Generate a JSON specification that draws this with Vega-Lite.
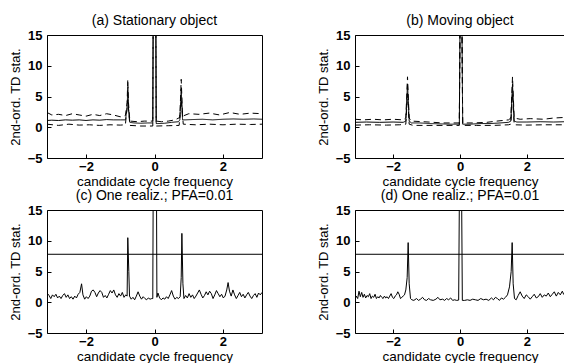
{
  "$schema": "https://vega.github.io/schema/vega-lite/v6.json",
  "padding": {"left": 8, "top": 13, "right": 0, "bottom": 0},
  "background": "white",
  "config": {
    "font": "Liberation Sans",
    "view": {"stroke": "black", "strokeWidth": 1},
    "axis": {"grid": false, "domain": false, "tickColor": "black", "labelColor": "black", "titleColor": "black", "labelFontSize": 13, "labelFontWeight": "bold", "titleFontSize": 14, "titleFontWeight": "normal", "tickSize": -4},
    "axisX": {"labelPadding": 6, "titlePadding": 1, "titleFontSize": 13.5},
    "axisY": {"labelPadding": 9, "titlePadding": 5, "titleFontSize": 13},
    "title": {"fontSize": 14, "fontWeight": "normal", "offset": 1, "color": "black"}
  },
  "datasets": {
    "a": [
      {"x": -3.14, "y": 1.1, "s": "mean"}, {"x": -3.0, "y": 1.15, "s": "mean"}, {"x": -2.8, "y": 1.1, "s": "mean"}, {"x": -2.6, "y": 1.2, "s": "mean"}, {"x": -2.4, "y": 1.15, "s": "mean"}, {"x": -2.2, "y": 1.2, "s": "mean"}, {"x": -2.0, "y": 1.1, "s": "mean"}, {"x": -1.8, "y": 1.2, "s": "mean"}, {"x": -1.6, "y": 1.15, "s": "mean"}, {"x": -1.4, "y": 1.25, "s": "mean"}, {"x": -1.2, "y": 1.2, "s": "mean"}, {"x": -1.0, "y": 1.2, "s": "mean"}, {"x": -0.85, "y": 1.2, "s": "mean"}, {"x": -0.8, "y": 3.0, "s": "mean"}, {"x": -0.78, "y": 6.5, "s": "mean"}, {"x": -0.76, "y": 3.0, "s": "mean"}, {"x": -0.72, "y": 0.8, "s": "mean"}, {"x": -0.6, "y": 0.7, "s": "mean"}, {"x": -0.4, "y": 0.65, "s": "mean"}, {"x": -0.2, "y": 0.7, "s": "mean"}, {"x": -0.05, "y": 0.7, "s": "mean"}, {"x": -0.04, "y": 16, "s": "mean"}, {"x": 0.04, "y": 16, "s": "mean"}, {"x": 0.05, "y": 0.6, "s": "mean"}, {"x": 0.1, "y": 0.6, "s": "mean"}, {"x": 0.3, "y": 0.65, "s": "mean"}, {"x": 0.5, "y": 0.8, "s": "mean"}, {"x": 0.7, "y": 0.9, "s": "mean"}, {"x": 0.74, "y": 1.2, "s": "mean"}, {"x": 0.78, "y": 6.2, "s": "mean"}, {"x": 0.82, "y": 1.2, "s": "mean"}, {"x": 0.9, "y": 1.2, "s": "mean"}, {"x": 1.1, "y": 1.25, "s": "mean"}, {"x": 1.4, "y": 1.3, "s": "mean"}, {"x": 1.7, "y": 1.2, "s": "mean"}, {"x": 2.0, "y": 1.3, "s": "mean"}, {"x": 2.3, "y": 1.35, "s": "mean"}, {"x": 2.6, "y": 1.3, "s": "mean"}, {"x": 2.9, "y": 1.35, "s": "mean"}, {"x": 3.14, "y": 1.3, "s": "mean"},
      {"x": -3.14, "y": 2.4, "s": "upper"}, {"x": -3.0, "y": 2.0, "s": "upper"}, {"x": -2.8, "y": 2.1, "s": "upper"}, {"x": -2.6, "y": 1.9, "s": "upper"}, {"x": -2.4, "y": 2.2, "s": "upper"}, {"x": -2.2, "y": 2.0, "s": "upper"}, {"x": -2.0, "y": 1.8, "s": "upper"}, {"x": -1.8, "y": 2.1, "s": "upper"}, {"x": -1.6, "y": 1.9, "s": "upper"}, {"x": -1.4, "y": 2.2, "s": "upper"}, {"x": -1.2, "y": 2.0, "s": "upper"}, {"x": -1.0, "y": 1.7, "s": "upper"}, {"x": -0.85, "y": 1.9, "s": "upper"}, {"x": -0.8, "y": 4.0, "s": "upper"}, {"x": -0.78, "y": 7.8, "s": "upper"}, {"x": -0.76, "y": 4.0, "s": "upper"}, {"x": -0.72, "y": 1.0, "s": "upper"}, {"x": -0.5, "y": 0.9, "s": "upper"}, {"x": -0.3, "y": 1.0, "s": "upper"}, {"x": -0.05, "y": 1.0, "s": "upper"}, {"x": -0.04, "y": 16, "s": "upper"}, {"x": 0.04, "y": 16, "s": "upper"}, {"x": 0.05, "y": 1.0, "s": "upper"}, {"x": 0.2, "y": 0.9, "s": "upper"}, {"x": 0.4, "y": 1.0, "s": "upper"}, {"x": 0.6, "y": 1.2, "s": "upper"}, {"x": 0.74, "y": 1.6, "s": "upper"}, {"x": 0.78, "y": 7.8, "s": "upper"}, {"x": 0.82, "y": 1.8, "s": "upper"}, {"x": 1.0, "y": 2.2, "s": "upper"}, {"x": 1.3, "y": 2.1, "s": "upper"}, {"x": 1.6, "y": 2.3, "s": "upper"}, {"x": 1.9, "y": 2.0, "s": "upper"}, {"x": 2.2, "y": 2.4, "s": "upper"}, {"x": 2.5, "y": 2.1, "s": "upper"}, {"x": 2.8, "y": 2.3, "s": "upper"}, {"x": 3.14, "y": 2.2, "s": "upper"},
      {"x": -3.14, "y": 0.5, "s": "lower"}, {"x": -2.8, "y": 0.3, "s": "lower"}, {"x": -2.5, "y": 0.5, "s": "lower"}, {"x": -2.2, "y": 0.35, "s": "lower"}, {"x": -1.9, "y": 0.4, "s": "lower"}, {"x": -1.6, "y": 0.3, "s": "lower"}, {"x": -1.3, "y": 0.4, "s": "lower"}, {"x": -1.0, "y": 0.35, "s": "lower"}, {"x": -0.85, "y": 0.4, "s": "lower"}, {"x": -0.78, "y": 4.5, "s": "lower"}, {"x": -0.72, "y": 0.3, "s": "lower"}, {"x": -0.4, "y": 0.2, "s": "lower"}, {"x": -0.05, "y": 0.2, "s": "lower"}, {"x": -0.04, "y": 16, "s": "lower"}, {"x": 0.04, "y": 16, "s": "lower"}, {"x": 0.05, "y": 0.2, "s": "lower"}, {"x": 0.4, "y": 0.25, "s": "lower"}, {"x": 0.72, "y": 0.3, "s": "lower"}, {"x": 0.78, "y": 4.5, "s": "lower"}, {"x": 0.84, "y": 0.5, "s": "lower"}, {"x": 1.2, "y": 0.4, "s": "lower"}, {"x": 1.6, "y": 0.5, "s": "lower"}, {"x": 2.0, "y": 0.4, "s": "lower"}, {"x": 2.4, "y": 0.5, "s": "lower"}, {"x": 2.8, "y": 0.45, "s": "lower"}, {"x": 3.14, "y": 0.5, "s": "lower"}
    ],
    "b": [
      {"x": -3.14, "y": 0.8, "s": "mean"}, {"x": -2.8, "y": 0.85, "s": "mean"}, {"x": -2.4, "y": 0.8, "s": "mean"}, {"x": -2.0, "y": 0.85, "s": "mean"}, {"x": -1.7, "y": 0.8, "s": "mean"}, {"x": -1.62, "y": 1.0, "s": "mean"}, {"x": -1.57, "y": 7.0, "s": "mean"}, {"x": -1.52, "y": 1.0, "s": "mean"}, {"x": -1.45, "y": 0.7, "s": "mean"}, {"x": -1.2, "y": 0.7, "s": "mean"}, {"x": -0.9, "y": 0.6, "s": "mean"}, {"x": -0.6, "y": 0.55, "s": "mean"}, {"x": -0.3, "y": 0.5, "s": "mean"}, {"x": -0.02, "y": 0.5, "s": "mean"}, {"x": 0.0, "y": 16, "s": "mean"}, {"x": 0.06, "y": 16, "s": "mean"}, {"x": 0.08, "y": 0.5, "s": "mean"}, {"x": 0.3, "y": 0.5, "s": "mean"}, {"x": 0.6, "y": 0.6, "s": "mean"}, {"x": 0.9, "y": 0.6, "s": "mean"}, {"x": 1.2, "y": 0.7, "s": "mean"}, {"x": 1.45, "y": 0.8, "s": "mean"}, {"x": 1.52, "y": 1.0, "s": "mean"}, {"x": 1.57, "y": 7.0, "s": "mean"}, {"x": 1.62, "y": 1.0, "s": "mean"}, {"x": 1.7, "y": 0.85, "s": "mean"}, {"x": 2.0, "y": 0.85, "s": "mean"}, {"x": 2.4, "y": 0.9, "s": "mean"}, {"x": 2.8, "y": 0.85, "s": "mean"}, {"x": 3.14, "y": 0.9, "s": "mean"},
      {"x": -3.14, "y": 1.3, "s": "upper"}, {"x": -2.9, "y": 1.2, "s": "upper"}, {"x": -2.6, "y": 1.3, "s": "upper"}, {"x": -2.3, "y": 1.2, "s": "upper"}, {"x": -2.0, "y": 1.3, "s": "upper"}, {"x": -1.7, "y": 1.2, "s": "upper"}, {"x": -1.62, "y": 1.5, "s": "upper"}, {"x": -1.57, "y": 8.2, "s": "upper"}, {"x": -1.52, "y": 1.5, "s": "upper"}, {"x": -1.45, "y": 1.0, "s": "upper"}, {"x": -1.1, "y": 0.9, "s": "upper"}, {"x": -0.8, "y": 0.8, "s": "upper"}, {"x": -0.5, "y": 0.7, "s": "upper"}, {"x": -0.02, "y": 0.7, "s": "upper"}, {"x": 0.0, "y": 16, "s": "upper"}, {"x": 0.06, "y": 16, "s": "upper"}, {"x": 0.08, "y": 0.7, "s": "upper"}, {"x": 0.4, "y": 0.7, "s": "upper"}, {"x": 0.8, "y": 0.8, "s": "upper"}, {"x": 1.1, "y": 1.0, "s": "upper"}, {"x": 1.45, "y": 1.2, "s": "upper"}, {"x": 1.52, "y": 1.5, "s": "upper"}, {"x": 1.57, "y": 8.2, "s": "upper"}, {"x": 1.62, "y": 1.5, "s": "upper"}, {"x": 1.8, "y": 1.3, "s": "upper"}, {"x": 2.1, "y": 1.4, "s": "upper"}, {"x": 2.5, "y": 1.3, "s": "upper"}, {"x": 2.8, "y": 1.5, "s": "upper"}, {"x": 3.14, "y": 1.6, "s": "upper"},
      {"x": -3.14, "y": 0.35, "s": "lower"}, {"x": -2.7, "y": 0.4, "s": "lower"}, {"x": -2.2, "y": 0.35, "s": "lower"}, {"x": -1.8, "y": 0.4, "s": "lower"}, {"x": -1.62, "y": 0.5, "s": "lower"}, {"x": -1.57, "y": 5.5, "s": "lower"}, {"x": -1.52, "y": 0.5, "s": "lower"}, {"x": -1.4, "y": 0.3, "s": "lower"}, {"x": -1.0, "y": 0.3, "s": "lower"}, {"x": -0.5, "y": 0.3, "s": "lower"}, {"x": -0.02, "y": 0.3, "s": "lower"}, {"x": 0.0, "y": 16, "s": "lower"}, {"x": 0.06, "y": 16, "s": "lower"}, {"x": 0.08, "y": 0.3, "s": "lower"}, {"x": 0.5, "y": 0.3, "s": "lower"}, {"x": 1.0, "y": 0.3, "s": "lower"}, {"x": 1.45, "y": 0.4, "s": "lower"}, {"x": 1.52, "y": 0.5, "s": "lower"}, {"x": 1.57, "y": 5.5, "s": "lower"}, {"x": 1.62, "y": 0.4, "s": "lower"}, {"x": 2.0, "y": 0.35, "s": "lower"}, {"x": 2.5, "y": 0.4, "s": "lower"}, {"x": 3.14, "y": 0.4, "s": "lower"}
    ],
    "c": [
      {"x": -3.14, "y": 1.5}, {"x": -3.08, "y": 1.1}, {"x": -3.03, "y": 0.6}, {"x": -2.98, "y": 1.2}, {"x": -2.93, "y": 0.9}, {"x": -2.88, "y": 1.3}, {"x": -2.83, "y": 0.7}, {"x": -2.78, "y": 1.0}, {"x": -2.73, "y": 0.6}, {"x": -2.68, "y": 1.1}, {"x": -2.63, "y": 1.4}, {"x": -2.58, "y": 0.8}, {"x": -2.53, "y": 1.2}, {"x": -2.48, "y": 0.6}, {"x": -2.43, "y": 0.9}, {"x": -2.38, "y": 0.5}, {"x": -2.33, "y": 1.0}, {"x": -2.28, "y": 0.7}, {"x": -2.23, "y": 1.3}, {"x": -2.18, "y": 1.6}, {"x": -2.13, "y": 3.0}, {"x": -2.09, "y": 1.2}, {"x": -2.04, "y": 0.5}, {"x": -1.99, "y": 0.9}, {"x": -1.94, "y": 0.6}, {"x": -1.89, "y": 1.0}, {"x": -1.84, "y": 1.8}, {"x": -1.79, "y": 2.0}, {"x": -1.74, "y": 1.6}, {"x": -1.69, "y": 0.9}, {"x": -1.64, "y": 1.5}, {"x": -1.59, "y": 1.9}, {"x": -1.54, "y": 1.6}, {"x": -1.49, "y": 0.8}, {"x": -1.44, "y": 1.1}, {"x": -1.39, "y": 0.7}, {"x": -1.34, "y": 1.3}, {"x": -1.29, "y": 1.9}, {"x": -1.24, "y": 1.5}, {"x": -1.19, "y": 2.0}, {"x": -1.14, "y": 1.2}, {"x": -1.09, "y": 0.8}, {"x": -1.04, "y": 1.4}, {"x": -0.99, "y": 1.0}, {"x": -0.94, "y": 1.6}, {"x": -0.89, "y": 0.8}, {"x": -0.84, "y": 1.2}, {"x": -0.8, "y": 1.0}, {"x": -0.78, "y": 10.5}, {"x": -0.75, "y": 5.0}, {"x": -0.73, "y": 1.0}, {"x": -0.68, "y": 0.5}, {"x": -0.63, "y": 0.8}, {"x": -0.58, "y": 0.4}, {"x": -0.53, "y": 1.0}, {"x": -0.48, "y": 1.7}, {"x": -0.43, "y": 1.0}, {"x": -0.38, "y": 0.5}, {"x": -0.33, "y": 0.9}, {"x": -0.28, "y": 0.6}, {"x": -0.23, "y": 0.4}, {"x": -0.18, "y": 0.7}, {"x": -0.13, "y": 0.5}, {"x": -0.08, "y": 0.6}, {"x": -0.05, "y": 0.6}, {"x": -0.04, "y": 16}, {"x": 0.06, "y": 16}, {"x": 0.07, "y": 0.8}, {"x": 0.1, "y": 1.5}, {"x": 0.15, "y": 0.7}, {"x": 0.2, "y": 0.4}, {"x": 0.25, "y": 0.7}, {"x": 0.3, "y": 0.5}, {"x": 0.35, "y": 0.9}, {"x": 0.4, "y": 0.6}, {"x": 0.45, "y": 1.2}, {"x": 0.5, "y": 1.9}, {"x": 0.55, "y": 1.0}, {"x": 0.6, "y": 0.5}, {"x": 0.65, "y": 0.8}, {"x": 0.7, "y": 0.6}, {"x": 0.75, "y": 0.9}, {"x": 0.78, "y": 4.0}, {"x": 0.8, "y": 11.2}, {"x": 0.83, "y": 3.0}, {"x": 0.86, "y": 0.6}, {"x": 0.91, "y": 1.1}, {"x": 0.96, "y": 0.7}, {"x": 1.01, "y": 1.4}, {"x": 1.06, "y": 0.8}, {"x": 1.11, "y": 1.2}, {"x": 1.16, "y": 0.6}, {"x": 1.21, "y": 1.0}, {"x": 1.26, "y": 1.5}, {"x": 1.31, "y": 2.0}, {"x": 1.36, "y": 1.3}, {"x": 1.41, "y": 0.7}, {"x": 1.46, "y": 1.1}, {"x": 1.51, "y": 1.7}, {"x": 1.56, "y": 1.2}, {"x": 1.61, "y": 1.8}, {"x": 1.66, "y": 1.4}, {"x": 1.71, "y": 0.6}, {"x": 1.76, "y": 1.2}, {"x": 1.81, "y": 1.9}, {"x": 1.86, "y": 1.4}, {"x": 1.91, "y": 0.9}, {"x": 1.96, "y": 1.3}, {"x": 2.01, "y": 0.7}, {"x": 2.06, "y": 1.0}, {"x": 2.11, "y": 2.0}, {"x": 2.15, "y": 3.2}, {"x": 2.19, "y": 1.8}, {"x": 2.24, "y": 1.0}, {"x": 2.29, "y": 2.0}, {"x": 2.34, "y": 1.2}, {"x": 2.39, "y": 0.6}, {"x": 2.44, "y": 1.1}, {"x": 2.49, "y": 1.6}, {"x": 2.54, "y": 0.9}, {"x": 2.59, "y": 1.3}, {"x": 2.64, "y": 0.7}, {"x": 2.69, "y": 1.2}, {"x": 2.74, "y": 1.6}, {"x": 2.79, "y": 1.0}, {"x": 2.84, "y": 0.6}, {"x": 2.89, "y": 1.1}, {"x": 2.94, "y": 1.4}, {"x": 2.99, "y": 0.8}, {"x": 3.04, "y": 1.5}, {"x": 3.09, "y": 1.2}, {"x": 3.14, "y": 1.6}
    ],
    "d": [
      {"x": -3.14, "y": 0.5}, {"x": -3.1, "y": 1.0}, {"x": -3.06, "y": 0.6}, {"x": -3.02, "y": 1.8}, {"x": -2.98, "y": 0.9}, {"x": -2.94, "y": 1.6}, {"x": -2.9, "y": 0.8}, {"x": -2.86, "y": 1.3}, {"x": -2.82, "y": 0.7}, {"x": -2.78, "y": 1.1}, {"x": -2.74, "y": 0.9}, {"x": -2.7, "y": 1.4}, {"x": -2.66, "y": 0.6}, {"x": -2.62, "y": 1.0}, {"x": -2.58, "y": 0.8}, {"x": -2.54, "y": 1.3}, {"x": -2.5, "y": 0.6}, {"x": -2.46, "y": 0.9}, {"x": -2.42, "y": 0.7}, {"x": -2.38, "y": 1.1}, {"x": -2.34, "y": 0.8}, {"x": -2.3, "y": 0.6}, {"x": -2.26, "y": 1.0}, {"x": -2.22, "y": 0.7}, {"x": -2.18, "y": 0.9}, {"x": -2.14, "y": 0.6}, {"x": -2.1, "y": 1.0}, {"x": -2.06, "y": 1.4}, {"x": -2.02, "y": 0.8}, {"x": -1.98, "y": 0.6}, {"x": -1.94, "y": 1.0}, {"x": -1.9, "y": 1.2}, {"x": -1.86, "y": 1.7}, {"x": -1.82, "y": 1.3}, {"x": -1.78, "y": 0.6}, {"x": -1.74, "y": 0.8}, {"x": -1.7, "y": 1.0}, {"x": -1.66, "y": 1.2}, {"x": -1.62, "y": 2.0}, {"x": -1.58, "y": 4.0}, {"x": -1.55, "y": 9.7}, {"x": -1.52, "y": 3.0}, {"x": -1.48, "y": 0.6}, {"x": -1.44, "y": 0.4}, {"x": -1.38, "y": 0.3}, {"x": -1.3, "y": 0.6}, {"x": -1.24, "y": 0.3}, {"x": -1.18, "y": 0.5}, {"x": -1.12, "y": 0.8}, {"x": -1.06, "y": 0.4}, {"x": -1.0, "y": 0.3}, {"x": -0.94, "y": 0.6}, {"x": -0.88, "y": 0.4}, {"x": -0.8, "y": 0.3}, {"x": -0.72, "y": 0.5}, {"x": -0.66, "y": 0.8}, {"x": -0.6, "y": 0.4}, {"x": -0.52, "y": 0.5}, {"x": -0.46, "y": 0.3}, {"x": -0.4, "y": 0.6}, {"x": -0.34, "y": 0.4}, {"x": -0.28, "y": 0.7}, {"x": -0.22, "y": 0.3}, {"x": -0.16, "y": 0.4}, {"x": -0.1, "y": 0.3}, {"x": -0.04, "y": 0.35}, {"x": -0.02, "y": 16}, {"x": 0.05, "y": 16}, {"x": 0.07, "y": 0.3}, {"x": 0.14, "y": 0.3}, {"x": 0.22, "y": 0.4}, {"x": 0.3, "y": 0.3}, {"x": 0.38, "y": 0.5}, {"x": 0.46, "y": 0.4}, {"x": 0.54, "y": 0.3}, {"x": 0.62, "y": 0.6}, {"x": 0.7, "y": 0.4}, {"x": 0.78, "y": 0.5}, {"x": 0.86, "y": 0.3}, {"x": 0.94, "y": 0.7}, {"x": 1.0, "y": 0.4}, {"x": 1.06, "y": 0.8}, {"x": 1.12, "y": 0.6}, {"x": 1.18, "y": 0.3}, {"x": 1.24, "y": 0.7}, {"x": 1.3, "y": 0.5}, {"x": 1.36, "y": 0.8}, {"x": 1.42, "y": 1.2}, {"x": 1.48, "y": 2.5}, {"x": 1.53, "y": 5.0}, {"x": 1.56, "y": 9.7}, {"x": 1.59, "y": 3.0}, {"x": 1.63, "y": 0.6}, {"x": 1.68, "y": 0.4}, {"x": 1.74, "y": 1.1}, {"x": 1.8, "y": 1.7}, {"x": 1.86, "y": 1.0}, {"x": 1.92, "y": 0.6}, {"x": 1.98, "y": 1.2}, {"x": 2.04, "y": 0.9}, {"x": 2.1, "y": 0.5}, {"x": 2.16, "y": 0.9}, {"x": 2.22, "y": 1.3}, {"x": 2.28, "y": 0.7}, {"x": 2.34, "y": 0.9}, {"x": 2.4, "y": 1.4}, {"x": 2.46, "y": 0.8}, {"x": 2.52, "y": 1.2}, {"x": 2.58, "y": 1.0}, {"x": 2.64, "y": 1.5}, {"x": 2.7, "y": 0.9}, {"x": 2.76, "y": 1.3}, {"x": 2.82, "y": 1.7}, {"x": 2.88, "y": 1.0}, {"x": 2.94, "y": 1.6}, {"x": 3.0, "y": 1.2}, {"x": 3.06, "y": 1.8}, {"x": 3.1, "y": 1.3}, {"x": 3.14, "y": 1.5}
    ],
    "thr": [{"t": 7.8}]
  },
  "vconcat": [
    {
      "hconcat": [
        {
          "title": "(a)  Stationary object",
          "width": 215, "height": 123,
          "data": {"name": "a"},
          "mark": {"type": "line", "clip": true, "color": "black", "strokeWidth": 1},
          "encoding": {
            "x": {"field": "x", "type": "quantitative", "scale": {"domain": [-3.14, 3.14], "nice": false, "zero": false}, "axis": {"values": [-2, 0, 2], "title": "candidate cycle frequency"}},
            "y": {"field": "y", "type": "quantitative", "scale": {"domain": [-5, 15], "nice": false}, "axis": {"values": [-5, 0, 5, 10, 15], "title": "2nd-ord. TD stat."}},
            "detail": {"field": "s"},
            "strokeDash": {"field": "s", "type": "nominal", "scale": {"domain": ["mean", "upper", "lower"], "range": [[1, 0], [6, 4], [6, 4]]}, "legend": null}
          }
        },
        {
          "title": "(b)  Moving object",
          "width": 210, "height": 123,
          "data": {"name": "b"},
          "mark": {"type": "line", "clip": true, "color": "black", "strokeWidth": 1},
          "encoding": {
            "x": {"field": "x", "type": "quantitative", "scale": {"domain": [-3.14, 3.14], "nice": false, "zero": false}, "axis": {"values": [-2, 0, 2], "title": "candidate cycle frequency"}},
            "y": {"field": "y", "type": "quantitative", "scale": {"domain": [-5, 15], "nice": false}, "axis": {"values": [-5, 0, 5, 10, 15], "title": "2nd-ord. TD stat."}},
            "detail": {"field": "s"},
            "strokeDash": {"field": "s", "type": "nominal", "scale": {"domain": ["mean", "upper", "lower"], "range": [[1, 0], [6, 4], [6, 4]]}, "legend": null}
          }
        }
      ],
      "spacing": 53
    },
    {
      "hconcat": [
        {
          "title": "(c)  One realiz.; PFA=0.01",
          "width": 215, "height": 123,
          "encoding": {
            "x": {"field": "x", "type": "quantitative", "scale": {"domain": [-3.14, 3.14], "nice": false, "zero": false}, "axis": {"values": [-2, 0, 2], "title": "candidate cycle frequency"}}
          },
          "layer": [
            {
              "data": {"name": "c"},
              "mark": {"type": "line", "clip": true, "color": "black", "strokeWidth": 1},
              "encoding": {
                "y": {"field": "y", "type": "quantitative", "scale": {"domain": [-5, 15], "nice": false}, "axis": {"values": [-5, 0, 5, 10, 15], "title": "2nd-ord. TD stat.", "labelOverlap": false}}
              }
            },
            {
              "data": {"name": "thr"},
              "mark": {"type": "rule", "color": "black", "strokeWidth": 1},
              "encoding": {"x": {"value": 0}, "x2": {"value": 215}, "y": {"field": "t", "type": "quantitative", "scale": {"domain": [-5, 15], "nice": false}, "axis": {"values": [-5, 0, 5, 10, 15], "title": "2nd-ord. TD stat.", "labelOverlap": false}}}
            }
          ]
        },
        {
          "title": "(d)  One realiz.; PFA=0.01",
          "width": 210, "height": 123,
          "encoding": {
            "x": {"field": "x", "type": "quantitative", "scale": {"domain": [-3.14, 3.14], "nice": false, "zero": false}, "axis": {"values": [-2, 0, 2], "title": "candidate cycle frequency"}}
          },
          "layer": [
            {
              "data": {"name": "d"},
              "mark": {"type": "line", "clip": true, "color": "black", "strokeWidth": 1},
              "encoding": {
                "y": {"field": "y", "type": "quantitative", "scale": {"domain": [-5, 15], "nice": false}, "axis": {"values": [-5, 0, 5, 10, 15], "title": "2nd-ord. TD stat.", "labelOverlap": false}}
              }
            },
            {
              "data": {"name": "thr"},
              "mark": {"type": "rule", "color": "black", "strokeWidth": 1},
              "encoding": {"x": {"value": 0}, "x2": {"value": 210}, "y": {"field": "t", "type": "quantitative", "scale": {"domain": [-5, 15], "nice": false}, "axis": {"values": [-5, 0, 5, 10, 15], "title": "2nd-ord. TD stat.", "labelOverlap": false}}}
            }
          ]
        }
      ],
      "spacing": 53
    }
  ],
  "spacing": 0
}
